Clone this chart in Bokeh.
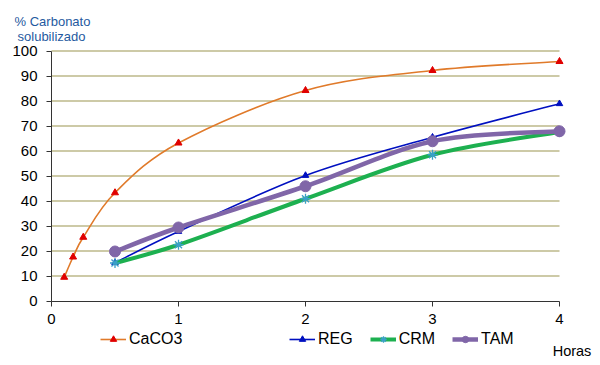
from bokeh.plotting import figure
from bokeh.models import Range1d, Label, Legend, LegendItem, FixedTicker, LinearAxis
from bokeh.embed import file_html
from bokeh.resources import INLINE

# ---- data ----
caco3_x = [0.1, 0.17, 0.25, 0.5, 1, 2, 3, 4]
caco3_y = [9.5, 17.6, 25.5, 43.3, 63.2, 84.2, 92.2, 95.8]
reg_x = [0.5, 1, 2, 3, 4]
reg_y = [15.3, 27.8, 50.2, 65.5, 78.9]
crm_x = [0.5, 1, 2, 3, 4]
crm_y = [15.2, 22.5, 40.9, 58.5, 67.6]
tam_x = [0.5, 1, 2, 3, 4]
tam_y = [19.8, 29.4, 45.9, 63.9, 67.9]
x_ticks = [0, 1, 2, 3, 4]
y_ticks = [0, 10, 20, 30, 40, 50, 60, 70, 80, 90, 100]

FONT = "Liberation Sans"

# ---- layout (pixels) ----
W, H = 596, 362
X0_PX, PX_PER_X = 51, 127.0     # pixel of x=0, pixels per hour
Y0_PX, PX_PER_Y = 300.5, 2.5    # pixel (from top) of y=0, pixels per %

x_range = Range1d(-X0_PX / PX_PER_X, (W - X0_PX) / PX_PER_X)
y_range = Range1d(-(H - Y0_PX) / PX_PER_Y, Y0_PX / PX_PER_Y)

p = figure(width=W, height=H, output_backend="svg", toolbar_location=None,
           x_range=x_range, y_range=y_range,
           x_axis_location=None, y_axis_location=None,
           min_border_left=0, min_border_right=0, min_border_top=0,
           min_border_bottom=0)
p.outline_line_color = None
p.background_fill_color = "white"
p.grid.visible = False

# horizontal gridlines between x=0 and x=4
gy = y_ticks[1:]
p.segment(x0=[x_ticks[0]] * len(gy), x1=[x_ticks[-1]] * len(gy), y0=gy, y1=gy,
          line_color="#BDB88A", line_width=1.3)

xaxis = LinearAxis(fixed_location=0, bounds=(x_ticks[0], x_ticks[-1]))
yaxis = LinearAxis(fixed_location=0, bounds=(y_ticks[0], y_ticks[-1]))
for ax, ticks, so in ((xaxis, x_ticks, 8), (yaxis, y_ticks, 9)):
    ax.ticker = FixedTicker(ticks=ticks)
    ax.minor_tick_line_color = None
    ax.major_tick_in = 0
    ax.major_tick_out = 5
    ax.axis_line_color = "#333333"
    ax.major_tick_line_color = "#333333"
    ax.major_label_text_font = FONT
    ax.major_label_text_font_size = "15px"
    ax.major_label_text_color = "black"
    ax.major_label_standoff = so
p.add_layout(xaxis, "below")
p.add_layout(yaxis, "left")


def smooth(xs, ys):
    n = len(xs)
    px = [xs[0]] + list(xs) + [xs[-1]]
    py = [ys[0]] + list(ys) + [ys[-1]]
    x0, y0, x1, y1, cx0, cy0, cx1, cy1 = [], [], [], [], [], [], [], []
    for i in range(1, n):
        x0.append(px[i]); y0.append(py[i])
        x1.append(px[i + 1]); y1.append(py[i + 1])
        cx0.append(px[i] + (px[i + 1] - px[i - 1]) / 6)
        cy0.append(py[i] + (py[i + 1] - py[i - 1]) / 6)
        cx1.append(px[i + 1] - (px[i + 2] - px[i]) / 6)
        cy1.append(py[i + 1] - (py[i + 2] - py[i]) / 6)
    return dict(x0=x0, y0=y0, x1=x1, y1=y1, cx0=cx0, cy0=cy0, cx1=cx1, cy1=cy1)


series = [
    (caco3_x, caco3_y, "#E07A2A", 1.6, "triangle", "#E00000", 7, "CaCO3"),
    (reg_x, reg_y, "#0010C0", 1.6, "triangle", "#0010C0", 6.5, "REG"),
    (crm_x, crm_y, "#1DB050", 4, "asterisk", "#3AA0C8", 10, "CRM"),
    (tam_x, tam_y, "#8066A8", 4.5, "circle", "#8066A8", 11, "TAM"),
]

items = {}
for xs, ys, lc, lw, mk, mc, ms, name in series:
    br = p.bezier(line_color=lc, line_width=lw, **smooth(xs, ys))
    sr = p.scatter(xs, ys, marker=mk, size=ms, fill_color=mc, line_color=mc,
                   line_width=1.3 if mk == "asterisk" else 1)
    items[name] = LegendItem(label=name, renderers=[br, sr])


def make_legend(its, x, y):
    lg = Legend(items=its, location=(x, y), orientation="horizontal",
                padding=0, margin=0, spacing=17, label_standoff=3,
                glyph_width=26, glyph_height=16, label_height=16,
                label_text_font=FONT, label_text_font_size="16px",
                label_text_color="black", border_line_alpha=0,
                background_fill_alpha=0)
    p.add_layout(lg, "center")


make_legend([items["CaCO3"]], 100, H - 348)
make_legend([items["REG"], items["CRM"], items["TAM"]], 289, H - 348)

p.add_layout(Label(x=571.5, y=H - 350, x_units="screen", y_units="screen",
                   text="Horas", text_font=FONT, text_font_size="14.5px",
                   text_color="black", text_align="center", text_baseline="middle"))
p.add_layout(Label(x=52, y=H - 21, x_units="screen", y_units="screen",
                   text="% Carbonato", text_font=FONT, text_font_size="13px",
                   text_color="#1F5AA0", text_align="center", text_baseline="middle"))
p.add_layout(Label(x=51, y=H - 36, x_units="screen", y_units="screen",
                   text="solubilizado", text_font=FONT, text_font_size="13px",
                   text_color="#1F5AA0", text_align="center", text_baseline="middle"))

open("out.html", "w").write(file_html(p, INLINE))
